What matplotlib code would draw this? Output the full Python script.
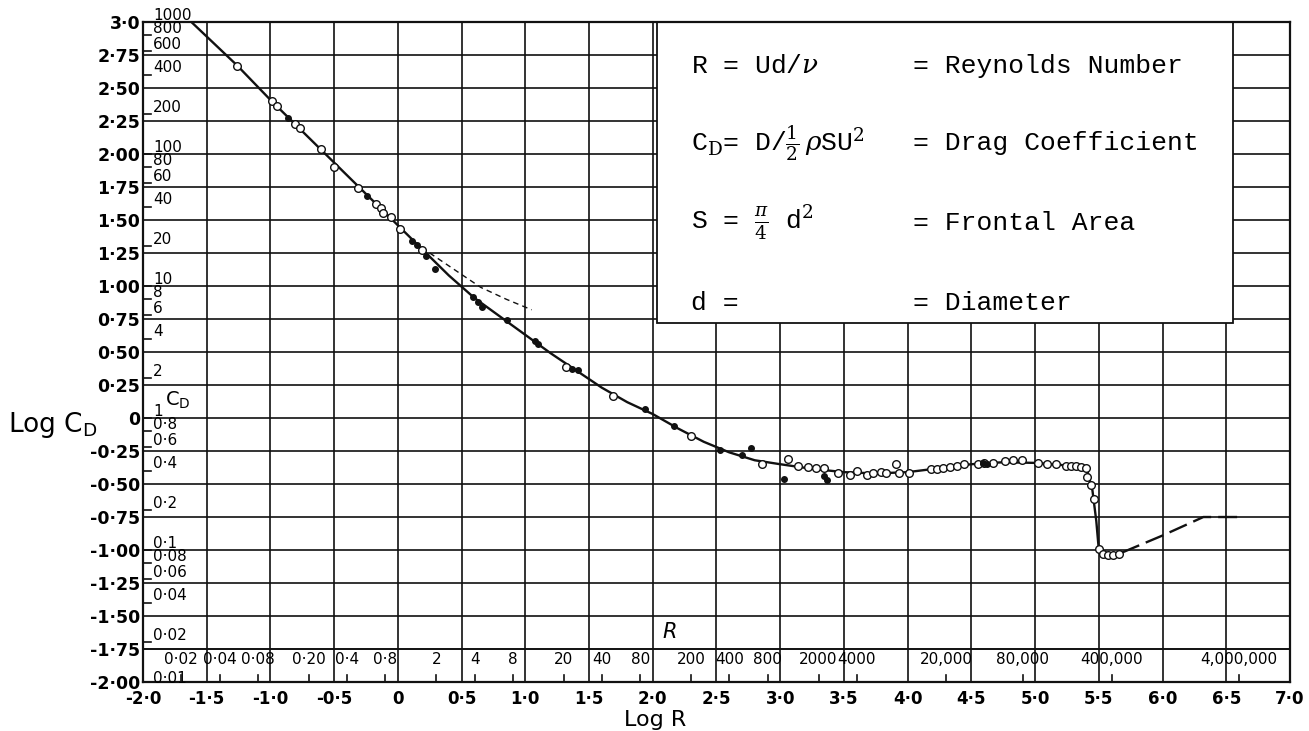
import matplotlib
matplotlib.use('Agg')
import matplotlib.pyplot as plt
from matplotlib.patches import Rectangle
import numpy as np

# drag curve of a sphere (log R, log C_D)
curve_logR = [-1.62, -1.26, -1.0, -0.8, -0.6, -0.4, -0.2, 0.0, 0.2, 0.4, 0.6, 0.8,
              1.0, 1.2, 1.4, 1.6, 1.8, 2.0, 2.2, 2.4, 2.6, 2.8, 3.0, 3.25, 3.5,
              3.75, 4.0, 4.25, 4.5, 4.75, 5.0, 5.2, 5.35, 5.41, 5.45, 5.48, 5.50,
              5.54, 5.62, 5.68]
curve_logCD = [3.0, 2.67, 2.41, 2.22, 2.03, 1.84, 1.65, 1.46, 1.27, 1.08, 0.91, 0.77,
               0.63, 0.49, 0.36, 0.23, 0.12, 0.03, -0.08, -0.18, -0.26, -0.32, -0.35,
               -0.385, -0.41, -0.42, -0.41, -0.38, -0.35, -0.335, -0.34, -0.355,
               -0.375, -0.40, -0.55, -0.78, -1.0, -1.04, -1.045, -1.03]

# dashed lines
oseen_logR = [0.25, 0.45, 0.65, 0.85, 1.05]
oseen_logCD = [1.25, 1.12, 0.99, 0.90, 0.82]
super_logR = [5.68, 6.0, 6.32, 6.62]
super_logCD = [-1.02, -0.89, -0.75, -0.75]

# experimental points
open_logR = [-1.26, -0.99, -0.95, -0.81, -0.77, -0.60, -0.50, -0.31, -0.17, -0.13,
             -0.12, -0.05, 0.02, 0.19, 1.32, 1.69, 2.30, 2.86, 3.06, 3.14, 3.22,
             3.28, 3.34, 3.45, 3.55, 3.60, 3.68, 3.73, 3.79, 3.83, 3.91, 3.93, 4.01,
             4.18, 4.23, 4.28, 4.33, 4.39, 4.44, 4.55, 4.60, 4.67, 4.76, 4.83, 4.90,
             5.02, 5.09, 5.16, 5.24, 5.28, 5.32, 5.36, 5.40, 5.41, 5.44, 5.46, 5.50,
             5.53, 5.57, 5.61, 5.66]
open_logCD = [2.67, 2.40, 2.36, 2.23, 2.20, 2.04, 1.90, 1.745, 1.62, 1.59,
              1.55, 1.52, 1.43, 1.27, 0.39, 0.17, -0.14, -0.35, -0.31, -0.36, -0.37,
              -0.375, -0.38, -0.42, -0.43, -0.40, -0.43, -0.42, -0.41, -0.42, -0.35,
              -0.42, -0.42, -0.39, -0.385, -0.38, -0.37, -0.36, -0.35, -0.35, -0.34,
              -0.34, -0.325, -0.32, -0.32, -0.34, -0.345, -0.345, -0.36, -0.36,
              -0.365, -0.37, -0.38, -0.45, -0.51, -0.61, -0.99, -1.03, -1.04, -1.04,
              -1.03]
filled_logR = [-0.865, -0.24, 0.11, 0.15, 0.22, 0.29, 0.59, 0.63, 0.66, 0.86, 1.08,
               1.10, 1.37, 1.41, 1.94, 2.17, 2.53, 2.70, 2.77, 3.03, 3.34, 3.37,
               4.59, 4.62]
filled_logCD = [2.27, 1.68, 1.34, 1.31, 1.23, 1.13, 0.92, 0.88, 0.84, 0.74, 0.58,
                0.56, 0.37, 0.36, 0.07, -0.06, -0.24, -0.28, -0.23, -0.46, -0.44,
                -0.47, -0.34, -0.35]

# axis labels
x_tick_labels = ['-2·0', '-1·5', '-1·0', '-0·5', '0', '0·5', '1·0', '1·5', '2·0', '2·5',
                 '3·0', '3·5', '4·0', '4·5', '5·0', '5·5', '6·0', '6·5', '7·0']
y_tick_labels = ['-2·00', '-1·75', '-1·50', '-1·25', '-1·00', '-0·75', '-0·50',
                 '-0·25', '0', '0·25', '0·50', '0·75', '1·00', '1·25', '1·50',
                 '1·75', '2·00', '2·25', '2·50', '2·75', '3·0']
cd_values = [1000, 800, 600, 400, 200, 100, 80, 60, 40, 20, 10, 8, 6, 4, 2, 1,
             0.8, 0.6, 0.4, 0.2, 0.1, 0.08, 0.06, 0.04, 0.02, 0.01]
cd_labels = ['1000', '800', '600', '400', '200', '100', '80', '60', '40', '20', '10',
             '8', '6', '4', '2', '1', '0·8', '0·6', '0·4', '0·2', '0·1', '0·08',
             '0·06', '0·04', '0·02', '0·01']
r_values = [0.02, 0.04, 0.08, 0.2, 0.4, 0.8, 2, 4, 8, 20, 40, 80, 200, 400, 800,
            2000, 4000, 20000, 80000, 400000, 4000000]
r_labels = ['0·02', '0·04', '0·08', '0·20', '0·4', '0·8', '2', '4', '8', '20', '40',
            '80', '200', '400', '800', '2000', '4000', '20,000', '80,000',
            '400,000', '4,000,000']

plt.rcParams['mathtext.fontset'] = 'dejavuserif'
hand = 'DejaVu Sans'
ink = '#111111'

fig = plt.figure(figsize=(13.09, 7.31), dpi=100)
ax = fig.add_axes([0.1092, 0.067, 0.8763, 0.9029])
ax.set_xlim(-2.0, 7.0)
ax.set_ylim(-2.0, 3.0)

ax.set_xticks(np.arange(-2.0, 7.01, 0.5))
ax.set_xticklabels(x_tick_labels, fontsize=12, family=hand, weight='bold')
ax.set_yticks(np.arange(-2.0, 3.01, 0.25))
ax.set_yticklabels(y_tick_labels, fontsize=12.5, family=hand, weight='bold')
ax.tick_params(length=0, pad=2)
ax.tick_params(axis='x', pad=6)
ax.set_axisbelow(True)
ax.grid(True, color=ink, linewidth=1.2)
for s in ax.spines.values():
    s.set_linewidth(1.6)
    s.set_color(ink)

# legend box covering the grid
ax.add_patch(Rectangle((2.03, 0.72), 6.55 - 2.03, 3.0 - 0.72, facecolor='white',
                       edgecolor=ink, linewidth=1.3, zorder=1))
mono = 'Liberation Mono'
rows_y = [2.67, 2.08, 1.48, 0.87]
left_txt = [r'R = Ud/$\nu$', r'C$_\mathrm{D}$= D/$\frac{1}{2}\,\rho$SU$^2$',
            r'S = $\frac{\pi}{4}$ d$^2$', 'd =']
right_txt = ['= Reynolds Number', '= Drag Coefficient', '= Frontal Area', '= Diameter']
for yy, lt, rt in zip(rows_y, left_txt, right_txt):
    ax.text(2.30, yy, lt, family=mono, fontsize=19, va='center', zorder=2)
    ax.text(4.04, yy, rt, family=mono, fontsize=19, va='center', zorder=2)

# inner C_D scale on the left
for v, lab in zip(cd_values, cd_labels):
    ly = np.log10(v)
    ax.plot([-2.0, -1.94], [ly, ly], color=ink, lw=1.2, zorder=3, clip_on=False)
    off = 0.03 if v == 0.01 else 0.05
    ax.text(-1.92, ly + off, lab, family=hand, fontsize=11, va='center', zorder=3)
ax.text(-1.73, 0.14, r'C$_\mathsf{D}$', family=hand, fontsize=14, ha='center',
        va='center')

# R scale along the bottom strip
ax.axhline(-1.75, color=ink, lw=1.2, zorder=0.6)
for v, lab in zip(r_values, r_labels):
    lx = np.log10(v)
    ax.plot([lx, lx], [-2.0, -1.95], color=ink, lw=1.2, zorder=3)
    ax.text(lx, -1.83, lab, family=hand, fontsize=11, ha='center', va='center',
            zorder=3)
ax.text(2.13, -1.62, 'R', family=hand, fontsize=15, style='italic', ha='center',
        va='center')

# curves and data
ax.plot(curve_logR, curve_logCD, color=ink, lw=1.7, zorder=4)
ax.plot(oseen_logR, oseen_logCD, color=ink, lw=1.0, ls=(0, (4, 3)), zorder=4)
ax.plot(super_logR, super_logCD, color=ink, lw=1.7, ls=(0, (8, 3)), zorder=4)
ax.plot(open_logR, open_logCD, 'o', ms=5.5, mfc='white', mec=ink, mew=1.0, zorder=5)
ax.plot(filled_logR, filled_logCD, 'o', ms=4, color=ink, zorder=5)

fig.text(0.006, 1 - 425 / 731, r'Log C$_\mathsf{D}$', family=hand, fontsize=19,
         va='center')
fig.text(655 / 1309, 0.002, 'Log R', family=hand, fontsize=16,
         ha='center', va='bottom')

fig.savefig('out.png', dpi=100, facecolor='white')
